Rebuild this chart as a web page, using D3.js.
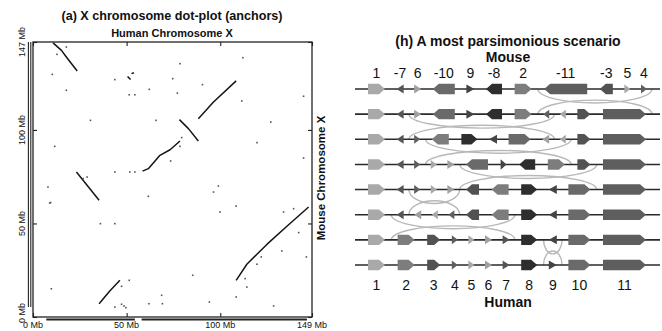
<!DOCTYPE html>
<html>
<head>
<meta charset="utf-8">
<script src="https://cdn.jsdelivr.net/npm/d3@7"></script>
<style>
  body { margin: 0; background: #fff; }
  text { font-family: "Liberation Sans", Arial, sans-serif; fill: #111; }
</style>
</head>
<body>
<svg id="fig" width="662" height="331"></svg>
<script>
// ---- panel (a): dot-plot data, in Mb (human, mouse)
const humanTicks = [0, 50, 100, 149];
const mouseTicks = [0, 50, 100, 147];

const anchorRuns = [
  [[10.7, 146.5], [15.2, 142.5], [17.8, 139.0], [23.6, 131.5]],
  [[50.5, 128.6], [52.1, 126.9]],
  [[52.6, 130.1], [53.9, 130.6]],
  [[88.3, 106.0], [96.4, 114.9], [108.5, 126.2]],
  [[78.2, 105.5], [83.0, 100.7], [88.3, 94.1]],
  [[58.5, 78.0], [61.6, 79.3], [67.8, 86.4], [73.2, 89.4], [78.5, 94.1]],
  [[23.2, 77.5], [35.3, 62.4]],
  [[35.3, 7.1], [41.0, 13.9], [46.4, 19.6]],
  [[108.5, 19.6], [114.2, 28.2], [124.9, 38.8], [135.6, 48.5], [147.2, 58.8]]
];

const anchorDots = [
  [17.8, 144.3], [12.8, 140.4], [10.3, 129.7], [17.8, 121.2], [11.6, 91.2],
  [30.7, 105.1], [8.0, 69.5], [8.9, 60.9], [9.4, 61.2], [9.8, 15.1],
  [43.7, 126.9], [51.4, 118.8], [54.4, 118.8], [62.1, 121.7], [74.6, 127.4],
  [78.5, 135.4], [77.1, 119.7], [90.5, 124.2], [112.1, 138.6], [111.5, 115.5],
  [144.5, 118.0], [65.7, 105.1], [127.0, 104.2], [119.6, 93.2], [144.5, 85.0],
  [79.4, 95.9], [78.5, 91.2], [73.5, 83.4], [43.7, 77.5], [51.7, 77.5],
  [54.4, 77.5], [28.9, 74.8], [26.8, 74.0], [61.6, 64.5], [99.0, 70.0],
  [96.4, 66.8], [99.9, 56.1], [108.5, 59.3], [36.0, 49.9], [43.7, 49.9],
  [139.2, 57.9], [141.9, 45.1], [133.8, 56.1], [132.9, 35.3], [146.0, 32.1],
  [121.9, 32.1], [119.6, 28.2], [113.3, 20.5], [114.2, 16.0], [85.3, 22.3],
  [51.4, 19.6], [47.3, 16.4], [68.7, 11.6], [69.1, 7.1], [61.9, 7.1],
  [43.7, 5.3], [47.3, 6.8], [48.6, 5.9], [49.6, 5.0], [94.2, 8.0],
  [108.5, 10.7], [128.5, 5.9]
];

const humanCover = [[7.1, 54.4], [58.0, 146.3]];
const mouseCover = [[5.3, 147.0]];

// ---- panel (h): synteny blocks and the reversal scenario
const blockLen = [17, 17, 13, 4, 4, 5, 5, 16, 6, 22, 43];
const blockShade = ['#a9a9a9', '#7d7d7d', '#525252', '#5e5e5e', '#a8a8a8', '#a0a0a0',
                    '#555555', '#2e2e2e', '#444444', '#6a6a6a', '#5e5e5e'];
const blockGap = 12.6;

const scenario = [
  [1, -7, 6, -10, 9, -8, 2, -11, -3, 5, 4],
  [1, -7, 6, -10, 9, -8, 2, -4, -5, 3, 11],
  [1, -7, 4, -2, 8, -9, 10, -6, -5, 3, 11],
  [1, -7, 4, 5, 6, -10, 9, -8, 2, 3, 11],
  [1, -7, 4, 5, 6, -3, -2, 8, -9, 10, 11],
  [1, -7, -6, -5, -4, -3, -2, 8, -9, 10, 11],
  [1, 2, 3, 4, 5, 6, 7, 8, -9, 10, 11],
  [1, 2, 3, 4, 5, 6, 7, 8, 9, 10, 11]
];

const svg = d3.select('#fig');

// ================= panel (a)
const hx = d3.scaleLinear().domain([0, 149]).range([33, 312]);
const my = d3.scaleLinear().domain([0, 147]).range([317, 42]);

const left = svg.append('g');

left.append('text')
  .attr('x', 172).attr('y', 20)
  .attr('text-anchor', 'middle')
  .style('font-size', '12.6px').style('font-weight', 'bold')
  .text('(a) X chromosome dot-plot (anchors)');

left.append('text')
  .attr('x', 172).attr('y', 37)
  .attr('text-anchor', 'middle')
  .style('font-size', '11px').style('font-weight', 'bold')
  .text('Human Chromosome X');

left.append('text')
  .attr('transform', 'translate(325,178) rotate(-90)')
  .attr('text-anchor', 'middle')
  .style('font-size', '11.5px').style('font-weight', 'bold')
  .text('Mouse Chromosome X');

left.append('rect')
  .attr('x', hx(0)).attr('y', my(147))
  .attr('width', hx(149) - hx(0)).attr('height', my(0) - my(147))
  .attr('fill', 'none').attr('stroke', '#222').attr('stroke-width', 1.3);

// inward ticks on all four sides
const tickSides = [
  [d3.axisBottom(hx).tickValues(humanTicks), `translate(0,${my(0)})`],
  [d3.axisTop(hx).tickValues(humanTicks), `translate(0,${my(147)})`],
  [d3.axisLeft(my).tickValues(mouseTicks), `translate(${hx(0)},0)`],
  [d3.axisRight(my).tickValues(mouseTicks), `translate(${hx(149)},0)`]
];
tickSides.forEach(([ax, tr]) => {
  const g = left.append('g').attr('transform', tr)
    .call(ax.tickSize(-4).tickFormat(''));
  g.select('.domain').remove();
  g.selectAll('line').attr('stroke', '#222').attr('stroke-width', 1.1);
});

left.selectAll('.hlab')
  .data(humanTicks)
  .enter().append('text')
  .attr('x', d => hx(d)).attr('y', 328)
  .attr('text-anchor', 'middle')
  .style('font-size', '9px')
  .text(d => d + ' Mb');

left.selectAll('.mlab')
  .data(mouseTicks)
  .enter().append('text')
  .attr('transform', d => `translate(25,${Math.min(my(d), 313)}) rotate(-90)`)
  .attr('text-anchor', 'middle')
  .style('font-size', '9px')
  .text(d => d + ' Mb');

// coverage bars beside the axes
left.selectAll('.hcov')
  .data(humanCover)
  .enter().append('line')
  .attr('x1', d => hx(d[0])).attr('x2', d => hx(d[1]))
  .attr('y1', 319.6).attr('y2', 319.6)
  .attr('stroke', '#222').attr('stroke-width', 2);

[28.4, 30.8].forEach(xp => {
  left.selectAll(null)
    .data(mouseCover)
    .enter().append('line')
    .attr('x1', xp).attr('x2', xp)
    .attr('y1', d => my(d[1])).attr('y2', d => my(d[0]))
    .attr('stroke', '#222').attr('stroke-width', 1.1);
});

const runLine = d3.line().x(d => hx(d[0])).y(d => my(d[1]));

left.selectAll('.run')
  .data(anchorRuns)
  .enter().append('path')
  .attr('d', runLine)
  .attr('fill', 'none').attr('stroke', '#151515').attr('stroke-width', 1.5)
  .attr('stroke-linejoin', 'round');

left.selectAll('.dot')
  .data(anchorDots)
  .enter().append('rect')
  .attr('x', d => hx(d[0]) - 0.8).attr('y', d => my(d[1]) - 0.8)
  .attr('width', 1.6).attr('height', 1.6)
  .attr('fill', '#555');

// ================= panel (h)
const right = svg.append('g');
const totalLen = d3.sum(blockLen) + blockGap * (blockLen.length - 1);
const bx = d3.scaleLinear().domain([0, totalLen]).range([368, 646]);
const rowY = d3.scaleLinear().domain([0, scenario.length - 1]).range([89, 265]);

// place every block of every row
const rows = scenario.map((order, r) => {
  let pos = 0;
  return order.map(s => {
    const id = Math.abs(s);
    const b = { id, sign: s, row: r, x0: bx(pos), x1: bx(pos + blockLen[id - 1]) };
    pos += blockLen[id - 1] + blockGap;
    return b;
  });
});

right.append('text')
  .attr('x', 508).attr('y', 46)
  .attr('text-anchor', 'middle')
  .style('font-size', '14px').style('font-weight', 'bold')
  .text('(h) A most parsimonious scenario');

right.append('text')
  .attr('x', 508).attr('y', 62)
  .attr('text-anchor', 'middle')
  .style('font-size', '14px').style('font-weight', 'bold')
  .text('Mouse');

right.append('text')
  .attr('x', 508).attr('y', 307)
  .attr('text-anchor', 'middle')
  .style('font-size', '14px').style('font-weight', 'bold')
  .text('Human');

// reversal arcs: find the stretch that changed between consecutive rows
const halfGap = (bx(blockGap) - bx(0)) / 2;
const arcs = [];
for (let r = 0; r < scenario.length - 1; r++) {
  const a = scenario[r], b = scenario[r + 1];
  let i = 0, j = a.length - 1;
  while (a[i] === b[i]) i++;
  while (a[j] === b[j]) j--;
  const x0 = rows[r][i].x0 - halfGap;
  const x1 = Math.min(rows[r][j].x1 + halfGap, 652);
  arcs.push({ x0, x1, y: rowY(r), below: true });
  arcs.push({ x0, x1, y: rowY(r + 1), below: false });
}

right.selectAll('.arc')
  .data(arcs)
  .enter().append('path')
  .attr('d', d => {
    const rx = (d.x1 - d.x0) / 2;
    return `M${d.x0},${d.y} A${rx},14 0 0 ${d.below ? 0 : 1} ${d.x1},${d.y}`;
  })
  .attr('fill', 'none').attr('stroke', '#b8b8b8').attr('stroke-width', 1.4);

right.selectAll('.axisline')
  .data(scenario)
  .enter().append('line')
  .attr('x1', 355).attr('x2', 660)
  .attr('y1', (d, i) => rowY(i)).attr('y2', (d, i) => rowY(i))
  .attr('stroke', '#2a2a2a').attr('stroke-width', 1.6);

function blockPath(b) {
  const y = rowY(b.row);
  const tip = 6;
  let x0 = b.x0, x1 = b.x1;
  let pts;
  if (x1 - x0 <= tip) {
    x0 -= 1; x1 += 1;
    const h = 4.5;
    pts = b.sign > 0
      ? [[x0, y - h], [x1, y], [x0, y + h]]
      : [[x1, y - h], [x0, y], [x1, y + h]];
  } else {
    const h = 5.2;
    pts = b.sign > 0
      ? [[x0, y - h], [x1 - tip, y - h], [x1, y], [x1 - tip, y + h], [x0, y + h]]
      : [[x1, y - h], [x0 + tip, y - h], [x0, y], [x0 + tip, y + h], [x1, y + h]];
  }
  return 'M' + pts.map(p => p.join(',')).join('L') + 'Z';
}

right.selectAll('.block')
  .data(rows.flat())
  .enter().append('path')
  .attr('d', blockPath)
  .attr('fill', d => blockShade[d.id - 1]);

right.selectAll('.mlab')
  .data(rows[0])
  .enter().append('text')
  .attr('x', d => (d.x0 + d.x1) / 2).attr('y', 78)
  .attr('text-anchor', 'middle')
  .style('font-size', '14px')
  .text(d => d.sign < 0 ? '-' + d.id : d.id);

right.selectAll('.hlab')
  .data(rows[rows.length - 1])
  .enter().append('text')
  .attr('x', d => (d.x0 + d.x1) / 2).attr('y', 290)
  .attr('text-anchor', 'middle')
  .style('font-size', '14px')
  .text(d => d.id);
</script>
</body>
</html>
